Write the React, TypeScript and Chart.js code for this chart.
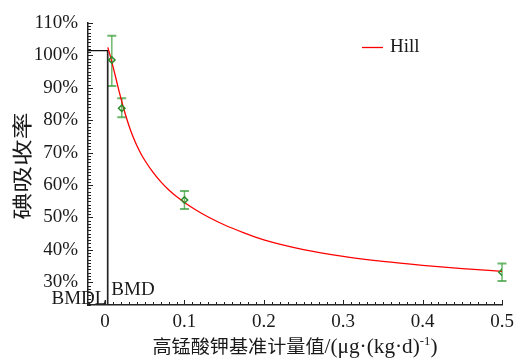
import React, { useEffect, useRef } from "react";
import { Chart, registerables } from "chart.js";
Chart.register(...registerables);

// ---- data ----
const xTickValues = [0, 0.1, 0.2, 0.3, 0.4, 0.5];
const yTickValues = [30, 40, 50, 60, 70, 80, 90, 100, 110];
const xRange = [-0.0215, 0.5];
const yRange = [23, 110];

const doses = [0.0085, 0.021, 0.1, 0.5];
const means = [98.6, 83.7, 55.4, 33.1];
const errLow = [90.6, 80.9, 52.6, 30.4];
const errHigh = [106.1, 86.8, 58.2, 35.8];

const hillX = [0.0034, 0.006, 0.0085, 0.0115, 0.0145, 0.018, 0.021, 0.025, 0.03, 0.035, 0.04, 0.045, 0.05, 0.06, 0.07, 0.08, 0.09, 0.1, 0.115, 0.13, 0.15, 0.175, 0.2, 0.25, 0.3, 0.35, 0.4, 0.45, 0.5];
const hillY = [102.5, 100.3, 98.0, 95.1, 92.1, 88.6, 85.8, 82.3, 78.4, 75.05, 72.2, 69.75, 67.65, 64.05, 61.05, 58.55, 56.45, 54.65, 52.25, 50.15, 47.75, 45.25, 43.1, 40.1, 38.0, 36.45, 35.25, 34.25, 33.4];

const bmdValue = 0.0035;
const bmdlValue = 0.0029;
const bmdResponse = 101.45;

const legendLabel = "Hill";
const yTitle = "碘吸收率";
const xTitleParts = ["高锰酸钾基准计量值", "/(μg·(kg·d)", "-1", ")"];

const SERIF = '"Liberation Serif", "Times New Roman", serif';
const CJK = '"Noto Sans CJK SC", sans-serif';
const TEXT = "#1a1a1a";
const GREEN = "rgb(40,140,40)";
const GREEN_LIGHT = "rgba(60,160,60,0.75)";

const innerTicks = {
  id: "innerTicks",
  afterDraw(chart: any) {
    const { ctx, chartArea, scales } = chart;
    const x = scales.x;
    const y = scales.y;
    ctx.save();
    ctx.strokeStyle = "#222";
    ctx.lineWidth = 1;
    for (let i = -2; i <= 50; i++) {
      const v = i / 100;
      if (v < xRange[0] || v > xRange[1] + 1e-9) continue;
      const px = Math.round(x.getPixelForValue(v)) + 0.5;
      const len = i % 10 === 0 ? 5 : 3;
      ctx.beginPath();
      ctx.moveTo(px, chartArea.bottom);
      ctx.lineTo(px, chartArea.bottom - len);
      ctx.stroke();
    }
    for (let v = Math.ceil(yRange[0]); v <= yRange[1]; v++) {
      const py = Math.round(y.getPixelForValue(v)) + 0.5;
      const len = v % 10 === 0 ? 5 : 3;
      ctx.beginPath();
      ctx.moveTo(chartArea.left, py);
      ctx.lineTo(chartArea.left + len, py);
      ctx.stroke();
    }
    ctx.restore();
  },
};

const errorBars = {
  id: "errorBars",
  beforeDatasetsDraw(chart: any) {
    const { ctx, scales } = chart;
    const x = scales.x;
    const y = scales.y;
    ctx.save();
    ctx.strokeStyle = GREEN_LIGHT;
    for (let i = 0; i < doses.length; i++) {
      const px = x.getPixelForValue(doses[i]);
      const top = y.getPixelForValue(errHigh[i]);
      const bot = y.getPixelForValue(errLow[i]);
      ctx.lineWidth = 1.5;
      ctx.beginPath();
      ctx.moveTo(px, top);
      ctx.lineTo(px, bot);
      ctx.stroke();
      ctx.lineWidth = 2;
      ctx.beginPath();
      ctx.moveTo(px - 4.5, top);
      ctx.lineTo(px + 4.5, top);
      ctx.moveTo(px - 4.5, bot);
      ctx.lineTo(px + 4.5, bot);
      ctx.stroke();
    }
    ctx.restore();
  },
};

const texts = {
  id: "texts",
  afterDraw(chart: any) {
    const { ctx, chartArea, scales } = chart;
    const x = scales.x;
    ctx.save();
    ctx.fillStyle = TEXT;
    // BMD labels
    ctx.font = `19px ${SERIF}`;
    ctx.textBaseline = "alphabetic";
    ctx.textAlign = "right";
    ctx.fillText("BMDL", x.getPixelForValue(bmdlValue) - 1, chartArea.bottom - 1.5);
    ctx.textAlign = "left";
    ctx.fillText("BMD", x.getPixelForValue(bmdValue) + 3.5, chartArea.bottom - 10);

    // legend
    ctx.strokeStyle = "#ff0000";
    ctx.lineWidth = 1.3;
    ctx.beginPath();
    ctx.moveTo(362, 47.5);
    ctx.lineTo(383, 47.5);
    ctx.stroke();
    ctx.textBaseline = "middle";
    ctx.font = `19px ${SERIF}`;
    ctx.fillText(legendLabel, 390, 47);

    // y title
    ctx.save();
    ctx.translate(22, 166);
    ctx.rotate(-Math.PI / 2);
    ctx.font = `20px ${CJK}`;
    const yw = ctx.measureText(yTitle).width;
    ctx.scale(107 / yw, 1);
    ctx.textAlign = "center";
    ctx.textBaseline = "middle";
    ctx.fillText(yTitle, 0, 0);
    ctx.restore();

    // x title
    const fonts = [`18px ${CJK}`, `20px ${SERIF}`, `12px ${SERIF}`, `20px ${SERIF}`];
    const dys = [0, 0, -8, 0];
    let total = 0;
    const widths: number[] = [];
    for (let i = 0; i < xTitleParts.length; i++) {
      ctx.font = fonts[i];
      const w = ctx.measureText(xTitleParts[i]).width;
      widths.push(w);
      total += w;
    }
    const target = 285;
    ctx.save();
    ctx.translate(295 - target / 2, 353);
    ctx.scale(target / total, 1);
    ctx.textAlign = "left";
    ctx.textBaseline = "alphabetic";
    let cx = 0;
    for (let i = 0; i < xTitleParts.length; i++) {
      ctx.font = fonts[i];
      ctx.fillText(xTitleParts[i], cx, dys[i]);
      cx += widths[i];
    }
    ctx.restore();
    ctx.restore();
  },
};

export default function App() {
  const ref = useRef<HTMLCanvasElement | null>(null);
  useEffect(() => {
    if (!ref.current) return;
    const chart = new Chart(ref.current, {
      type: "scatter",
      data: {
        datasets: [
          {
            label: "points",
            data: doses.map((d, i) => ({ x: d, y: means[i] })),
            pointStyle: "rectRot",
            pointRadius: 3.2,
            borderColor: GREEN,
            backgroundColor: "rgba(0,0,0,0)",
            borderWidth: 1.5,
            showLine: false,
            order: 0,
          },
          {
            label: legendLabel,
            data: hillX.map((v, i) => ({ x: v, y: hillY[i] })),
            showLine: true,
            borderColor: "#ff0000",
            borderWidth: 1.3,
            pointRadius: 0,
            cubicInterpolationMode: "monotone",
            order: 1,
          },
          {
            label: "BMD",
            data: [
              { x: xRange[0], y: bmdResponse },
              { x: bmdValue, y: bmdResponse },
              { x: bmdValue, y: yRange[0] },
            ],
            showLine: true,
            borderColor: "#111",
            borderWidth: 1.3,
            pointRadius: 0,
            order: 2,
          },
          {
            label: "BMDL",
            data: [
              { x: bmdlValue, y: bmdResponse },
              { x: bmdlValue, y: yRange[0] },
            ],
            showLine: true,
            borderColor: "#777",
            borderWidth: 1.2,
            pointRadius: 0,
            order: 3,
          },
        ],
      } as any,
      options: {
        animation: false,
        responsive: false,
        layout: { padding: { top: 23, right: 12, left: 0, bottom: 0 } },
        plugins: { legend: { display: false }, tooltip: { enabled: false } },
        scales: {
          x: {
            type: "linear",
            min: xRange[0],
            max: xRange[1],
            afterBuildTicks: (s: any) => {
              s.ticks = xTickValues.map((v) => ({ value: v }));
            },
            afterFit: (s: any) => {
              s.height = 56;
              s.paddingRight = 0;
              s.paddingLeft = 0;
            },
            ticks: {
              callback: (v: any) => String(v),
              font: { family: SERIF, size: 19 },
              color: TEXT,
              padding: 6,
              maxRotation: 0,
              autoSkip: false,
            },
            grid: { display: false, drawTicks: false },
            border: { display: true, color: "#222", width: 1.5 },
          },
          y: {
            type: "linear",
            min: yRange[0],
            max: yRange[1],
            afterBuildTicks: (s: any) => {
              s.ticks = yTickValues.map((v) => ({ value: v }));
            },
            afterFit: (s: any) => {
              s.width = 88;
              s.paddingTop = 0;
              s.paddingBottom = 0;
            },
            ticks: {
              callback: (v: any) => v + "%",
              font: { family: SERIF, size: 19 },
              color: TEXT,
              padding: 10,
              autoSkip: false,
            },
            grid: { display: false, drawTicks: false },
            border: { display: true, color: "#222", width: 1.5 },
          },
        },
      } as any,
      plugins: [errorBars, innerTicks, texts],
    });
    return () => chart.destroy();
  }, []);
  return (
    <div style={{ position: "fixed", left: 0, top: 0, width: 514, height: 361, background: "#fff" }}>
      <canvas ref={ref} width={514} height={361} style={{ width: 514, height: 361 }} />
    </div>
  );
}
